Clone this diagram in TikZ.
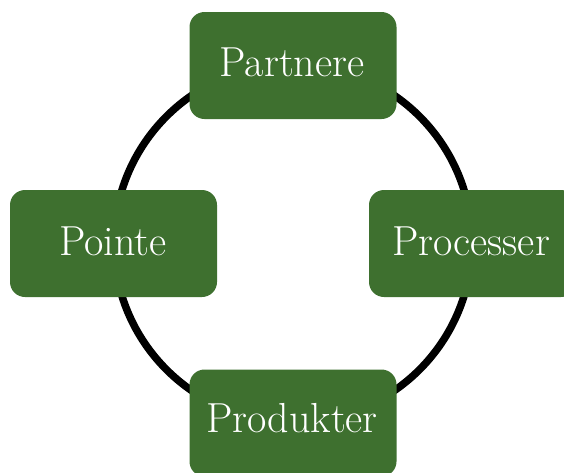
\documentclass[tikz,border=0pt]{standalone}
\usepackage{tikz}
\definecolor{boxgreen}{HTML}{3E702F}
\tikzset{
  stage/.style={rectangle, rounded corners=15pt, fill=boxgreen, text=white,
    minimum width=207pt, minimum height=107pt, inner sep=0pt,
    font=\fontsize{42}{44}\selectfont},
  label/.style={text=white, inner sep=0pt, font=\fontsize{42}{44}\selectfont},
  ring/.style={line width=7.5pt, black}
}
\begin{document}
\begin{tikzpicture}[x=1pt,y=-1pt]
\useasboundingbox (0,0) rectangle (564,472);
\clip (0,0) rectangle (564,472);
\coordinate (c) at (293,243);
\draw[ring] (c) circle[radius=179pt];
\node[stage] (top) at (293,65.5) {};
\node[stage] (left) at (113.5,243.5) {};
\node[stage] (right) at (472.5,243.5) {};
\node[stage] (bottom) at (293,423) {};
\node[label, anchor=base] (topt) at (292,76) {Partnere};
\node[label, anchor=base] (leftt) at (113,255) {Pointe};
\node[label, anchor=base] (rightt) at (471,255) {Processer};
\node[label, anchor=base] (bottomt) at (292,432) {Produkter};
\end{tikzpicture}
\end{document}
